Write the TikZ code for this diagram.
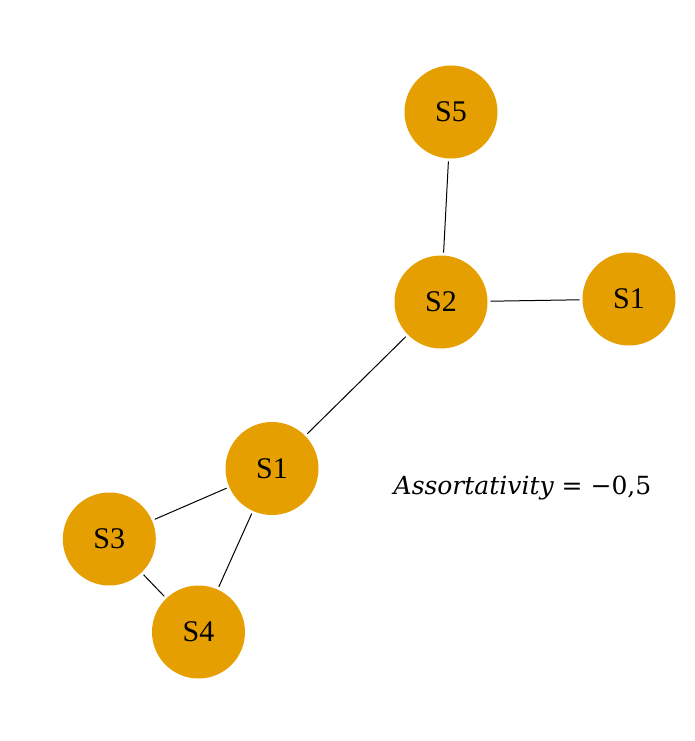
\documentclass[tikz,border=0pt]{standalone}
\usepackage{fontspec}
\setmainfont{Liberation Serif}
\newfontfamily\mathlike{DejaVu Serif}
\definecolor{nodeorange}{HTML}{E69F00}
\begin{document}
\begin{tikzpicture}[x=1pt,y=-1pt,
  vert/.style={circle,fill=nodeorange,minimum size=93pt,inner sep=0pt,outer sep=3pt,font=\fontsize{30}{32}\selectfont},
  edge/.style={draw=black,line width=1pt}]
\useasboundingbox (0,0) rectangle (694,741);
\node[vert] (s5) at (451,112) {S5};
\node[vert] (s2) at (441,302) {S2};
\node[vert] (s1r) at (629,299) {S1};
\node[vert] (s1) at (272,468.5) {S1};
\node[vert] (s3) at (109.3,539) {S3};
\node[vert] (s4) at (198.5,632) {S4};
\draw[edge] (s5) -- (s2);
\draw[edge] (s2) -- (s1r);
\draw[edge] (s2) -- (s1);
\draw[edge] (s1) -- (s3);
\draw[edge] (s1) -- (s4);
\draw[edge] (s3) -- (s4);
\node (ass) at (522.5,488) {\fontsize{25}{28}\selectfont\mathlike\itshape Assortativity\upshape{} = −0,5};
\end{tikzpicture}
\end{document}
